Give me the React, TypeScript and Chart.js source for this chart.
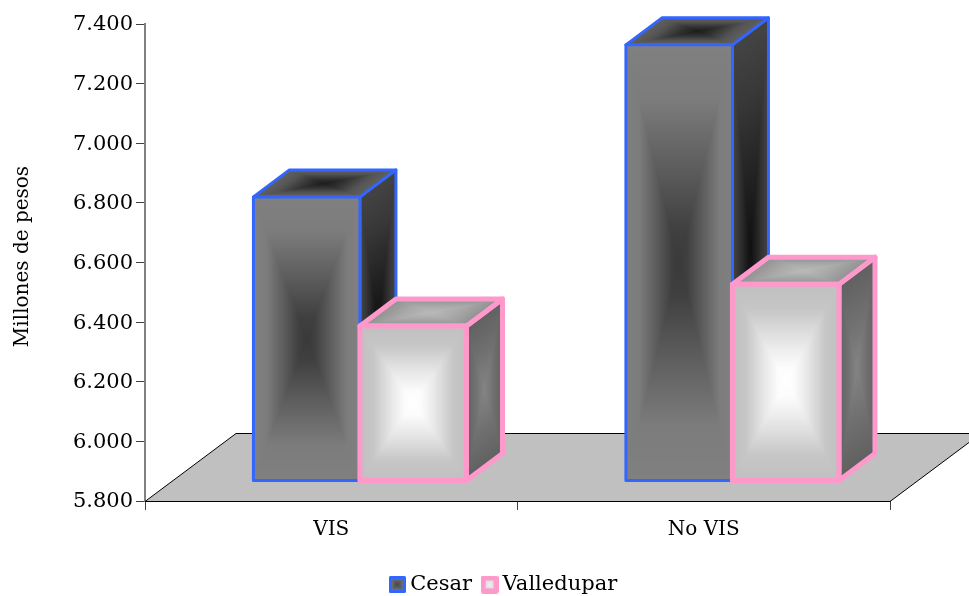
import React, { useEffect, useRef } from "react";
import { Chart, registerables } from "chart.js";

Chart.register(...registerables);

const categories = ["VIS", "No VIS"];
const seriesNames = ["Cesar", "Valledupar"];
const cesar = [6753, 7263];
const valledupar = [6320, 6460];
const axisMin = 5800;
const axisMax = 7400;
const axisStep = 200;
const axisTitle = "Millones de pesos";
const FONT = "'DejaVu Serif', serif";

type Stop = [number, number];
type FaceStyle = { front: Stop[]; side: Stop[]; top: Stop[]; glyph: Stop[]; glyphSize: number; border: string; lineWidth: number };

const cesarStyle: FaceStyle = {
  front: [[0, 0x80], [0.25, 0x7c], [0.6, 0x5a], [0.85, 0x40], [1, 0x3a]],
  side: [[0, 0x44], [0.3, 0x38], [0.7, 0x20], [1, 0x10]],
  top: [[0, 0x60], [0.3, 0x55], [0.7, 0x30], [1, 0x1c]],
  glyph: [[0, 0x80], [0.5, 0x60], [1, 0x48]],
  glyphSize: 17,
  border: "#3366ff",
  lineWidth: 3,
};
const valleStyle: FaceStyle = {
  front: [[0, 0xc0], [0.25, 0xc6], [0.6, 0xe8], [0.85, 0xfc], [1, 0xff]],
  side: [[0, 0x60], [0.5, 0x70], [1, 0x84]],
  top: [[0, 0x90], [0.5, 0xa8], [1, 0xba]],
  glyph: [[0, 0xc8], [0.5, 0xe0], [1, 0xf4]],
  glyphSize: 18,
  border: "#ff99cc",
  lineWidth: 5,
};
const faceStyles = [cesarStyle, valleStyle];

function stopValue(stops: Stop[], t: number) {
  for (let i = 1; i < stops.length; i++) {
    if (t <= stops[i][0]) {
      const [t0, v0] = stops[i - 1];
      const [t1, v1] = stops[i];
      return v0 + ((v1 - v0) * (t - t0)) / (t1 - t0);
    }
  }
  return stops[stops.length - 1][1];
}

function pathGradient(w: number, h: number, stops: Stop[]) {
  const c = document.createElement("canvas");
  c.width = Math.max(2, Math.ceil(w));
  c.height = Math.max(2, Math.ceil(h));
  const g = c.getContext("2d")!;
  const img = g.createImageData(c.width, c.height);
  for (let y = 0; y < c.height; y++) {
    for (let x = 0; x < c.width; x++) {
      const u = (x + 0.5) / c.width;
      const v = (y + 0.5) / c.height;
      const t = 1 - Math.max(Math.abs(2 * u - 1), Math.abs(2 * v - 1));
      const val = stopValue(stops, t);
      const o = (y * c.width + x) * 4;
      img.data[o] = img.data[o + 1] = img.data[o + 2] = val;
      img.data[o + 3] = 255;
    }
  }
  g.putImageData(img, 0, 0);
  return c;
}

type P = [number, number];

// Paint a parallelogram given top-left, top-right and bottom-left corners.
function face(ctx: CanvasRenderingContext2D, tl: P, tr: P, bl: P, stops: Stop[], border: string, lw: number) {
  const ex: P = [tr[0] - tl[0], tr[1] - tl[1]];
  const ey: P = [bl[0] - tl[0], bl[1] - tl[1]];
  const tex = pathGradient(Math.hypot(ex[0], ex[1]), Math.hypot(ey[0], ey[1]), stops);
  ctx.save();
  ctx.beginPath();
  ctx.moveTo(tl[0], tl[1]);
  ctx.lineTo(tr[0], tr[1]);
  ctx.lineTo(tr[0] + ey[0], tr[1] + ey[1]);
  ctx.lineTo(bl[0], bl[1]);
  ctx.closePath();
  ctx.save();
  ctx.clip();
  ctx.transform(ex[0] / tex.width, ex[1] / tex.width, ey[0] / tex.height, ey[1] / tex.height, tl[0], tl[1]);
  ctx.drawImage(tex, 0, 0);
  ctx.restore();
  ctx.strokeStyle = border;
  ctx.lineWidth = lw;
  ctx.lineJoin = "round";
  ctx.stroke();
  ctx.restore();
}

function legendGlyph(style: FaceStyle) {
  const size = style.glyphSize;
  const c = document.createElement("canvas");
  c.width = size;
  c.height = size;
  const g = c.getContext("2d")!;
  const lw = style.lineWidth;
  face(g, [lw / 2, lw / 2], [size - lw / 2, lw / 2], [lw / 2, size - lw / 2], style.glyph, style.border, lw);
  return c;
}

const BAR_SHIFT_X = 28.7;
const BAR_SHIFT_Y = -20;
const DEPTH_X = 36;
const DEPTH_Y = -27;
const FLOOR_X = 91;
const FLOOR_Y = -68;
const LEGEND_SHIFT_X = 61;
const LEGEND_TOP = 559;

const scene3d = {
  id: "scene3d",
  afterLayout(chart: any) {
    const lg = chart.legend;
    if (lg) {
      lg.left += LEGEND_SHIFT_X;
      lg.right += LEGEND_SHIFT_X;
      const h = lg.bottom - lg.top;
      lg.top = LEGEND_TOP;
      lg.bottom = lg.top + h;
    }
  },
  beforeDatasetsDraw(chart: any) {
    const { ctx, chartArea: a } = chart;
    ctx.save();
    ctx.beginPath();
    ctx.moveTo(a.left, a.bottom + 0.5);
    ctx.lineTo(a.right, a.bottom + 0.5);
    ctx.lineTo(a.right + FLOOR_X, a.bottom + FLOOR_Y + 0.5);
    ctx.lineTo(a.left + FLOOR_X, a.bottom + FLOOR_Y + 0.5);
    ctx.closePath();
    ctx.fillStyle = "#c0c0c0";
    ctx.fill();
    ctx.strokeStyle = "#000000";
    ctx.lineWidth = 1;
    ctx.stroke();
    ctx.restore();
  },
  afterDatasetsDraw(chart: any) {
    const { ctx } = chart;
    categories.forEach((_, idx) => {
      faceStyles.forEach((st, ds) => {
        const bar = chart.getDatasetMeta(ds).data[idx];
        const props = bar.getProps(["x", "y", "base", "width"], true);
        const l = props.x - props.width / 2 + BAR_SHIFT_X;
        const r = l + props.width;
        const t = props.y + BAR_SHIFT_Y;
        const b = props.base + BAR_SHIFT_Y;
        face(ctx, [r, t], [r + DEPTH_X, t + DEPTH_Y], [r, b], st.side, st.border, st.lineWidth);
        face(ctx, [l + DEPTH_X, t + DEPTH_Y], [r + DEPTH_X, t + DEPTH_Y], [l, t], st.top, st.border, st.lineWidth);
        face(ctx, [l, t], [r, t], [l, b], st.front, st.border, st.lineWidth);
      });
    });
  },
  afterDraw(chart: any) {
    const { ctx } = chart;
    ctx.save();
    ctx.translate(23, 256.5);
    ctx.rotate(-Math.PI / 2);
    ctx.font = `20px ${FONT}`;
    ctx.fillStyle = "#000";
    ctx.textAlign = "center";
    ctx.textBaseline = "middle";
    ctx.fillText(axisTitle, 0, 0);
    ctx.restore();
  },
};

export default function App() {
  const ref = useRef<HTMLCanvasElement>(null);
  useEffect(() => {
    document.body.style.margin = "0";
    const glyphs = faceStyles.map(legendGlyph);
    const chart = new Chart(ref.current!, {
      type: "bar",
      data: {
        labels: categories,
        datasets: [
          { label: seriesNames[0], data: cesar, base: axisMin, backgroundColor: "rgba(0,0,0,0)", borderWidth: 0, barPercentage: 1, categoryPercentage: 0.572 },
          { label: seriesNames[1], data: valledupar, base: axisMin, backgroundColor: "rgba(0,0,0,0)", borderWidth: 0, barPercentage: 1, categoryPercentage: 0.572 },
        ],
      },
      options: {
        responsive: false,
        animation: false,
        layout: { padding: { top: 24, right: 79, left: 0, bottom: 0 } },
        plugins: {
          tooltip: { enabled: false },
          legend: {
            position: "bottom",
            labels: {
              usePointStyle: true,
              pointStyleWidth: 5,
              padding: 15,
              color: "#000",
              font: { family: FONT, size: 21 },
              generateLabels: () =>
                seriesNames.map((text, i) => ({
                  text,
                  pointStyle: glyphs[i],
                  fillStyle: "#808080",
                  strokeStyle: faceStyles[i].border,
                  lineWidth: 0,
                  hidden: false,
                  datasetIndex: i,
                  fontColor: "#000",
                })),
            },
          },
        },
        scales: {
          x: {
            grid: { display: true, drawOnChartArea: false, drawTicks: true, tickLength: 9, color: "#404040" },
            border: { color: "#000" },
            ticks: { color: "#000", font: { family: FONT, size: 20 }, padding: 8, maxRotation: 0, autoSkip: false },
            afterFit: (s: any) => {
              s.height = 95 - (s.chart.legend?.height ?? 40);
            },
          },
          y: {
            min: axisMin,
            max: axisMax,
            grid: { display: true, drawOnChartArea: false, drawTicks: true, tickLength: 9, color: "#404040" },
            border: { color: "#808080", width: 2 },
            ticks: {
              stepSize: axisStep,
              color: "#000",
              font: { family: FONT, size: 21 },
              padding: 3,
              labelOffset: 1,
              callback: (v: any) => {
                const s = String(Math.round(Number(v)));
                return s.slice(0, -3) + "." + s.slice(-3);
              },
            },
            afterFit: (s: any) => {
              s.width = 145;
            },
          },
        },
      },
      plugins: [scene3d],
    } as any);
    return () => chart.destroy();
  }, []);
  return (
    <div style={{ width: 969, height: 596, overflow: "hidden", background: "#fff" }}>
      <canvas ref={ref} width={969} height={596} style={{ display: "block" }} />
    </div>
  );
}
